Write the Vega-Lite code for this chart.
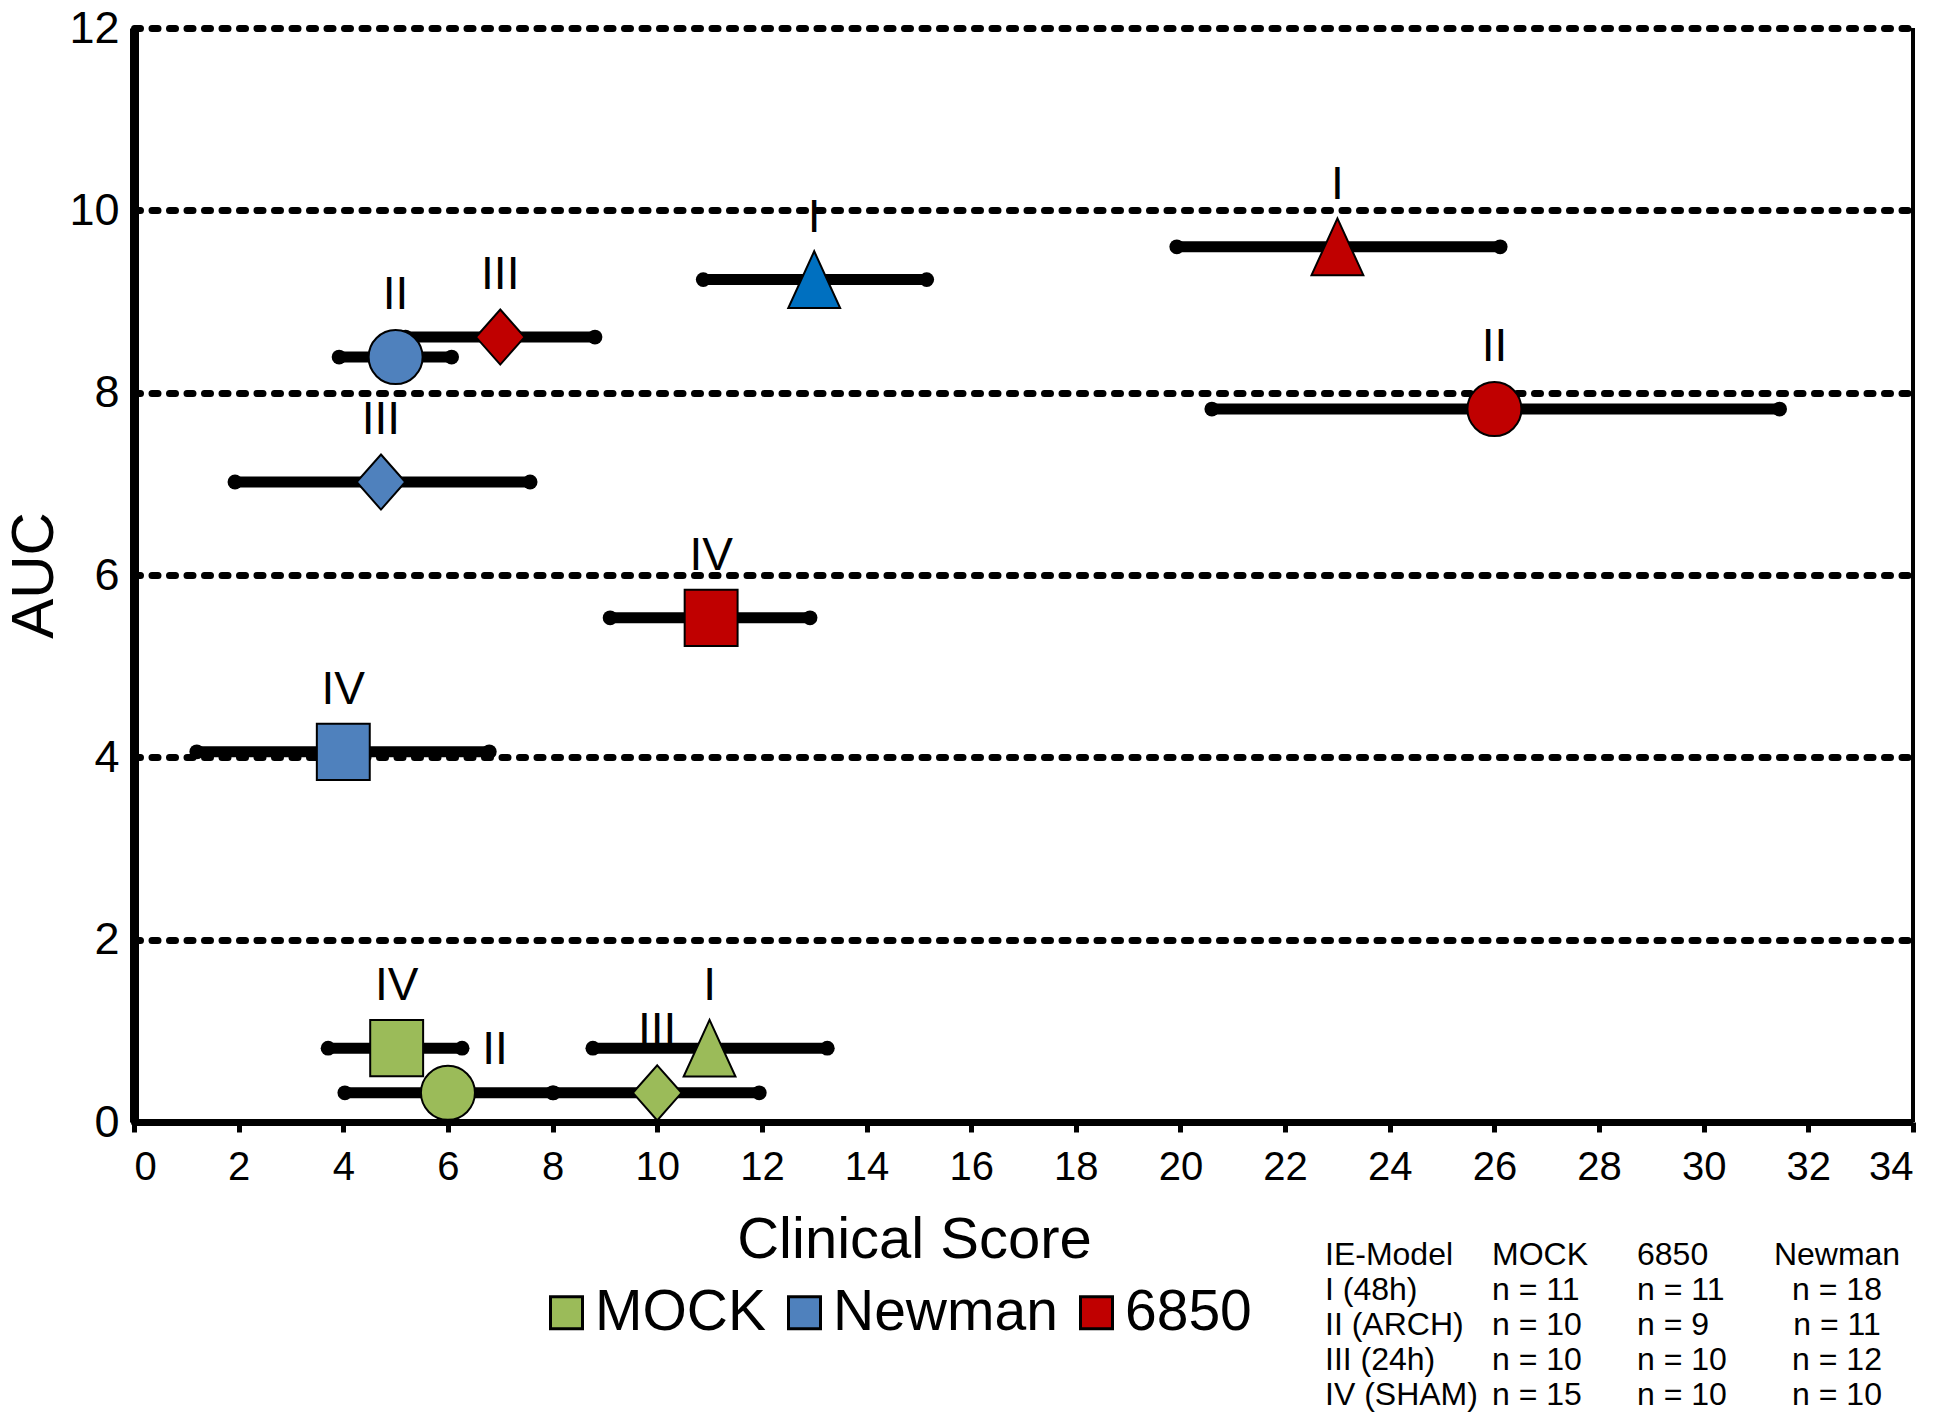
{
  "$schema": "https://vega.github.io/schema/vega-lite/v6.json",
  "padding": {"left": 4, "top": 6, "right": 5, "bottom": 5},
  "background": "white",
  "bounds": "flush",
  "spacing": 115,
  "config": {
    "view": {"stroke": null},
    "font": "Liberation Sans",
    "axis": {"labelColor": "black", "titleColor": "black", "titleFontWeight": "normal", "labelFont": "Liberation Sans", "titleFont": "Liberation Sans"},
    "text": {"font": "Liberation Sans"}
  },
  "resolve": {"scale": {"x": "independent", "y": "independent"}, "legend": {"fill": "independent"}},
  "vconcat": [
    {
      "width": 1779,
      "height": 1094,
      "data": {"values": [
        {"group": "MOCK", "model": "I", "x": 11.0, "y": 0.81, "lo": 8.77, "hi": 13.25},
        {"group": "MOCK", "model": "II", "x": 6.0, "y": 0.32, "lo": 4.03, "hi": 8.0},
        {"group": "MOCK", "model": "III", "x": 10.0, "y": 0.32, "lo": 8.02, "hi": 11.95},
        {"group": "MOCK", "model": "IV", "x": 5.02, "y": 0.81, "lo": 3.71, "hi": 6.27},
        {"group": "Newman", "model": "I", "x": 13.0, "y": 9.24, "lo": 10.88, "hi": 15.15},
        {"group": "Newman", "model": "II", "x": 5.0, "y": 8.39, "lo": 3.92, "hi": 6.07},
        {"group": "Newman", "model": "III", "x": 4.72, "y": 7.02, "lo": 1.93, "hi": 7.57},
        {"group": "Newman", "model": "IV", "x": 4.0, "y": 4.06, "lo": 1.2, "hi": 6.79},
        {"group": "6850", "model": "I", "x": 23.0, "y": 9.6, "lo": 19.93, "hi": 26.11},
        {"group": "6850", "model": "II", "x": 26.0, "y": 7.82, "lo": 20.6, "hi": 31.45},
        {"group": "6850", "model": "III", "x": 7.0, "y": 8.61, "lo": 5.19, "hi": 8.81},
        {"group": "6850", "model": "IV", "x": 11.03, "y": 5.53, "lo": 9.1, "hi": 12.92}
      ]},
      "layer": [
        {
          "data": {"values": [{}]},
          "mark": {"type": "rule", "color": "black", "strokeWidth": 4},
          "encoding": {
            "x": {"datum": 34, "type": "quantitative",
              "scale": {"domain": [0, 34], "nice": false, "zero": false},
              "axis": {"values": [0, 2, 4, 6, 8, 10, 12, 14, 16, 18, 20, 22, 24, 26, 28, 30, 32, 34], "format": "d",
                "title": "Clinical Score", "titleFontSize": 58, "titleX": 780, "titleY": 118, "titleBaseline": "middle",
                "labelFontSize": 40, "labelPadding": 15, "domainColor": "black", "domainWidth": 7,
                "tickColor": "black", "tickWidth": 5, "tickSize": 10, "grid": false}},
            "y": {"datum": 0, "type": "quantitative",
              "scale": {"domain": [0, 12], "nice": false},
              "axis": {"values": [0, 2, 4, 6, 8, 10, 12], "format": "d", "title": "AUC", "titleFontSize": 60, "titlePadding": 3,
                "labelFontSize": 45, "labelPadding": 15, "ticks": false, "domainColor": "black", "domainWidth": 9,
                "grid": true, "gridColor": "black", "gridWidth": 7, "gridDash": [6, 11.5], "gridCap": "round", "gridOpacity": 1}},
            "y2": {"datum": 12}
          }
        },
        {
          "mark": {"type": "rule", "color": "black", "strokeWidth": 11},
          "encoding": {
            "x": {"field": "lo", "type": "quantitative"},
            "x2": {"field": "hi"},
            "y": {"field": "y", "type": "quantitative"}
          }
        },
        {
          "mark": {"type": "point", "shape": "circle", "filled": true, "color": "black", "size": 220, "opacity": 1},
          "encoding": {
            "x": {"field": "lo", "type": "quantitative"},
            "y": {"field": "y", "type": "quantitative"}
          }
        },
        {
          "mark": {"type": "point", "shape": "circle", "filled": true, "color": "black", "size": 220, "opacity": 1},
          "encoding": {
            "x": {"field": "hi", "type": "quantitative"},
            "y": {"field": "y", "type": "quantitative"}
          }
        },
        {
          "mark": {"type": "point", "filled": true, "size": 2916, "stroke": "black", "strokeWidth": 2, "opacity": 1},
          "encoding": {
            "x": {"field": "x", "type": "quantitative"},
            "y": {"field": "y", "type": "quantitative"},
            "shape": {"field": "model", "type": "nominal",
              "scale": {"domain": ["I", "II", "III", "IV"],
                "range": ["M0,-1.05L0.96,1.05L-0.96,1.05Z", "circle", "M0,-1.02L0.9,0L0,1.02L-0.9,0Z", "M-0.98,-1.04L0.98,-1.04L0.98,1.04L-0.98,1.04Z"]},
              "legend": null},
            "fill": {
              "condition": {"test": "datum.group === 'Newman' && datum.model === 'I'", "value": "#0070C0"},
              "field": "group", "type": "nominal",
              "scale": {"domain": ["MOCK", "Newman", "6850"], "range": ["#9BBB59", "#4F81BD", "#C00000"]},
              "legend": {"orient": "none", "legendX": 404, "legendY": 1256, "direction": "horizontal", "title": null,
                "symbolType": "square", "symbolSize": 1024, "symbolStrokeColor": "black", "symbolStrokeWidth": 3,
                "symbolOpacity": 1, "labelFontSize": 57, "labelFont": "Liberation Sans", "labelColor": "black",
                "labelLimit": 0, "labelOffset": 0, "columnPadding": 10, "padding": 0}
            }
          }
        },
        {
          "transform": [{"filter": "!(datum.group === 'MOCK' && datum.model === 'II')"}],
          "mark": {"type": "text", "fontSize": 46, "dy": -62, "align": "center", "baseline": "middle", "color": "black"},
          "encoding": {
            "x": {"field": "x", "type": "quantitative"},
            "y": {"field": "y", "type": "quantitative"},
            "text": {"field": "model"}
          }
        },
        {
          "transform": [{"filter": "datum.group === 'MOCK' && datum.model === 'II'"}],
          "mark": {"type": "text", "fontSize": 46, "dx": 47, "dy": -43, "align": "center", "baseline": "middle", "color": "black"},
          "encoding": {
            "x": {"field": "x", "type": "quantitative"},
            "y": {"field": "y", "type": "quantitative"},
            "text": {"field": "model"}
          }
        }
      ]
    },
    {
      "hconcat": [
        {
          "width": 1171,
          "height": 175,
          "data": {"values": [{}]},
          "mark": {"type": "text", "text": ""},
          "encoding": {}
        },
        {
          "width": 468,
          "height": 175,
          "data": {"values": [
            {"row": "hdr", "col": "model", "cell": "IE-Model"},
            {"row": "hdr", "col": "MOCK", "cell": "MOCK"},
            {"row": "hdr", "col": "6850", "cell": "6850"},
            {"row": "hdr", "col": "Newman", "cell": "Newman"},
            {"row": "I", "col": "model", "cell": "I (48h)"},
            {"row": "I", "col": "MOCK", "cell": "n = 11"},
            {"row": "I", "col": "6850", "cell": "n = 11"},
            {"row": "I", "col": "Newman", "cell": "n = 18"},
            {"row": "II", "col": "model", "cell": "II (ARCH)"},
            {"row": "II", "col": "MOCK", "cell": "n = 10"},
            {"row": "II", "col": "6850", "cell": "n = 9"},
            {"row": "II", "col": "Newman", "cell": "n = 11"},
            {"row": "III", "col": "model", "cell": "III (24h)"},
            {"row": "III", "col": "MOCK", "cell": "n = 10"},
            {"row": "III", "col": "6850", "cell": "n = 10"},
            {"row": "III", "col": "Newman", "cell": "n = 12"},
            {"row": "IV", "col": "model", "cell": "IV (SHAM)"},
            {"row": "IV", "col": "MOCK", "cell": "n = 15"},
            {"row": "IV", "col": "6850", "cell": "n = 10"},
            {"row": "IV", "col": "Newman", "cell": "n = 10"}
          ]},
          "encoding": {
            "x": {"field": "col", "type": "nominal", "axis": null,
              "scale": {"type": "point", "domain": ["model", "MOCK", "6850", "Newman"], "padding": 0}},
            "y": {"field": "row", "type": "nominal", "axis": null,
              "scale": {"type": "point", "domain": ["hdr", "I", "II", "III", "IV"], "padding": 0.5}},
            "text": {"field": "cell"}
          },
          "layer": [
            {
              "transform": [{"filter": "datum.col === 'model' || datum.col === '6850'"}],
              "mark": {"type": "text", "align": "left", "baseline": "middle", "fontSize": 32, "color": "black"}
            },
            {
              "transform": [{"filter": "datum.col === 'MOCK'"}],
              "mark": {"type": "text", "align": "left", "baseline": "middle", "fontSize": 32, "color": "black", "dx": 11}
            },
            {
              "transform": [{"filter": "datum.col === 'Newman'"}],
              "mark": {"type": "text", "align": "center", "baseline": "middle", "fontSize": 32, "color": "black", "dx": 44}
            }
          ]
        }
      ],
      "spacing": 20,
      "bounds": "flush"
    }
  ]
}
